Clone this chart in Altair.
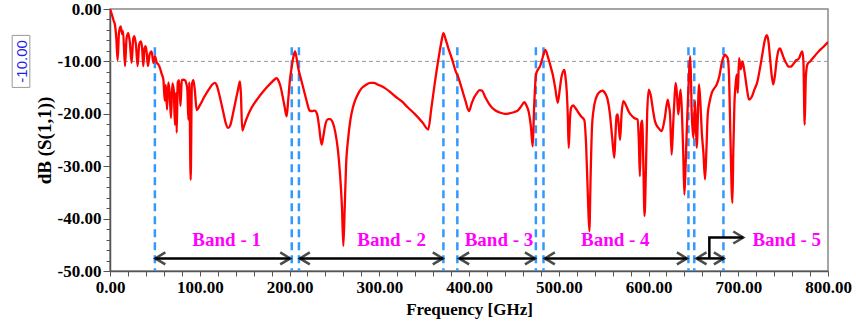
import altair as alt
import pandas as pd

# Return loss S(1,1) in dB versus frequency in GHz
freq_ghz = [
    0, 2, 4, 5.5, 7, 8.5, 10, 11.9, 13.5, 14.5, 16.7, 18.5, 20.4, 22.2, 24.1, 25.8, 27.1, 29,
    30.8, 32.5, 34.5, 35.8, 37.1, 38.5, 39.7, 41, 42.3, 44.2, 46.4, 48.3, 50.1, 52, 53.9, 55.5,
    57.6, 59.5, 61, 62.2, 63.5, 65, 66.5, 67.9, 69.5, 71, 72.4, 73.5, 74.3, 75.5, 77, 78.5, 80,
    81.7, 83.5, 85, 86.2, 87.3, 88.3, 89.9, 91.2, 92.9, 94.5, 96.6, 100, 105, 110, 114, 116.9,
    119, 122, 126, 129, 131.7, 134, 137, 140, 142.5, 144.8, 145.8, 147.4, 149, 152, 156, 160,
    165, 170, 175, 180, 183, 185.7, 188, 190, 192.5, 194.5, 196.8, 198.5, 200.5, 202.5, 204.5,
    206.2, 208, 210, 213, 216, 219, 222.5, 225, 228, 231, 233, 235.8, 237.5, 240, 243, 245.2,
    248, 251, 254, 256.5, 258.5, 260, 261.5, 263, 265.5, 268, 270.5, 273, 277, 280.4, 285, 290,
    294, 298, 302, 306.3, 312, 318, 324.9, 332, 340, 348, 354.6, 358, 362, 366, 369, 371.5, 374,
    377, 381, 385, 388, 392, 396, 400, 403, 406, 409, 412, 414.6, 418, 422, 426, 430, 435, 440,
    445, 450, 454.3, 458, 461.7, 464, 466.5, 469, 471, 472.5, 474.7, 477, 479.2, 482, 485.1,
    488, 491, 493.3, 496, 498.9, 501, 503, 506.3, 507.5, 508.9, 510, 511.1, 512.5, 513.7, 516,
    518.5, 522, 525, 528.5, 530.5, 532.5, 534.1, 535.5, 537, 539, 541.5, 545, 548.9, 552, 554.5,
    557, 559.5, 561.9, 563.2, 564.5, 565.6, 566.5, 568.3, 570, 571.9, 575, 578, 580.4, 584,
    587.8, 589.2, 590.4, 591.8, 593, 594.3, 595.6, 597.2, 598.5, 600.3, 602.5, 605, 607.2, 611,
    614.7, 618, 621.4, 622.8, 624, 625.8, 627.5, 629, 630.3, 631.8, 633.2, 634.5, 635.8, 637.3,
    638.8, 640, 641.3, 642.6, 644.5, 646.4, 647.3, 648.1, 650, 651.9, 653.7, 656.3, 658, 659.3,
    661.2, 663, 664.5, 666, 668, 670.5, 673, 676, 679, 681.6, 683.5, 685.3, 686.8, 688.3, 689.8,
    691.2, 693.5, 694.5, 695.7, 697, 698.3, 699.5, 700.9, 702.8, 704.6, 707, 709.5, 712, 715,
    718, 721.3, 724, 727, 729.5, 731.7, 733.5, 735.5, 737.5, 739.1, 741, 743, 745, 746.5, 748.5,
    751, 754, 756, 758.4, 761, 764, 767.7, 769.8, 771.4, 772.6, 774, 775.3, 777, 780, 785, 790,
    795, 800,
]
s11_db = [
    0.0, -1.0, -2.2, -3.0, -5.5, -9.8, -4.5, -3.3, -4.8, -4.2, -10.9, -5.5, -4.6, -6.5, -10.3,
    -5.8, -5.2, -7.0, -10.9, -6.8, -6.2, -7.5, -10.9, -7.5, -7.1, -8.5, -10.9, -8.6, -8.1, -10.3,
    -9.0, -10.2, -10.6, -11.2, -12.4, -13.5, -17.5, -14.5, -19.2, -14.0, -16.0, -20.8, -14.2,
    -15.5, -22.1, -16.0, -23.6, -14.0, -13.6, -18.5, -13.6, -13.5, -13.6, -14.2, -15.5, -21.1,
    -14.0, -32.6, -14.5, -13.6, -15.5, -19.3, -18.4, -16.8, -15.4, -14.4, -14.1, -14.6, -16.5,
    -19.5, -21.8, -22.7, -22.2, -20.0, -17.5, -15.5, -13.8, -16.0, -23.2, -22.5, -21.0, -19.4,
    -18.2, -17.0, -15.9, -14.9, -14.0, -13.5, -13.2, -13.8, -14.8, -16.8, -18.6, -20.5, -17.5,
    -13.5, -11.0, -9.0, -8.1, -9.5, -11.5, -13.5, -15.5, -17.5, -19.4, -19.5, -19.4, -20.2,
    -22.5, -25.9, -24.5, -22.0, -21.0, -21.0, -21.6, -23.5, -27.0, -32.0, -38.0, -45.2, -38.0,
    -30.0, -24.5, -21.0, -18.9, -17.5, -16.0, -15.1, -14.5, -14.1, -14.1, -14.4, -14.7, -15.1,
    -15.8, -16.7, -17.6, -18.8, -20.1, -21.6, -23.0, -19.0, -14.0, -9.5, -6.5, -4.6, -5.8, -7.5,
    -9.5, -11.8, -13.0, -15.2, -17.5, -19.5, -18.0, -16.8, -16.0, -15.5, -15.6, -16.8, -18.0,
    -18.9, -19.4, -19.8, -20.0, -19.9, -19.7, -19.4, -18.6, -17.8, -18.4, -19.6, -22.5, -26.2,
    -19.0, -12.5, -11.5, -10.9, -9.3, -7.8, -9.2, -11.0, -12.5, -15.0, -17.9, -15.5, -13.0,
    -11.6, -13.0, -15.7, -20.0, -26.5, -21.0, -18.9, -18.4, -18.9, -19.8, -20.5, -21.2, -26.0,
    -36.0, -42.4, -32.0, -22.7, -19.0, -17.0, -15.9, -15.6, -16.2, -17.3, -20.0, -24.5, -28.4,
    -24.0, -20.3, -20.1, -21.5, -25.0, -20.0, -17.6, -18.4, -19.6, -20.2, -20.8, -21.1, -25.0,
    -31.9, -22.0, -21.3, -30.0, -39.5, -30.0, -20.0, -15.4, -16.5, -19.3, -21.4, -22.7, -23.3,
    -21.0, -17.3, -18.5, -20.1, -27.8, -22.0, -17.0, -14.1, -16.5, -20.1, -17.5, -15.4, -20.0,
    -28.0, -35.4, -30.0, -23.3, -15.0, -9.0, -13.0, -19.5, -24.6, -17.6, -26.5, -14.4, -18.5,
    -23.3, -27.5, -32.5, -27.0, -20.1, -17.8, -16.0, -15.2, -14.4, -12.8, -10.3, -9.2, -8.7,
    -9.0, -9.4, -13.0, -24.0, -37.0, -27.0, -18.2, -14.5, -12.5, -16.0, -9.4, -11.5, -10.0,
    -12.0, -15.0, -17.3, -16.8, -15.4, -13.9, -11.5, -8.5, -6.0, -5.0, -6.0, -9.5, -13.0, -14.4,
    -12.5, -9.5, -7.8, -7.5, -8.3, -9.5, -10.5, -11.0, -11.0, -10.6, -9.9, -9.4, -8.5, -8.1,
    -10.0, -22.1, -13.0, -10.6, -10.0, -9.0, -8.0, -7.2, -6.3,
]

# Band boundaries (dashed markers), band arrows and labels
edge_ghz = [50, 202.5, 210.5, 371.5, 387, 474.5, 483, 644.5, 651, 683.5]
arrow_from = [50.5, 211.5, 389, 484.5, 653.5]
arrow_to = [200.8, 370.8, 473.5, 642.8, 684]
band_names = ["Band - 1", "Band - 2", "Band - 3", "Band - 4", "Band - 5"]
band_label_ghz = [130, 313.8, 433.4, 563, 754]

# Elbow pointer for the last band (open-ended above 680 GHz)
elbow_x = [667.8, 667.8, 705.6]
elbow_y = [-47.6, -43.6, -43.6]

ref_level_db = -10
marker_top_db = -7.3
marker_bottom_db = -50
arrow_db = -47.6
label_db = -44.0

x_ticks = list(range(0, 801, 20))
y_ticks = list(range(-50, 1, 2))

serif = "Liberation Serif"
x_scale = alt.Scale(domain=[0, 800], nice=False, zero=False)
y_scale = alt.Scale(domain=[-50, 0], nice=False, zero=False)

curve = pd.DataFrame({"f": freq_ghz, "s": s11_db})
edges = pd.DataFrame({"f": edge_ghz, "top": marker_top_db, "bot": marker_bottom_db})
arrows = pd.DataFrame({"a": arrow_from, "b": arrow_to, "y": arrow_db})
labels = pd.DataFrame({"f": band_label_ghz, "t": band_names, "y": label_db})
elbow = pd.DataFrame({"f": elbow_x, "s": elbow_y, "o": [0, 1, 2]})
ref_df = pd.DataFrame({"v": [ref_level_db], "t": ["-10.00"]})

x_axis = alt.Axis(
    values=x_ticks,
    labelExpr="datum.value % 100 === 0 ? format(datum.value, '.2f') : ''",
    title="Frequency [GHz]",
    titleFont=serif, titleFontSize=17, titleFontWeight="bold", titleColor="#000",
    titlePadding=6,
    labelFont=serif, labelFontSize=17, labelFontWeight="bold", labelColor="#000",
    labelPadding=3, labelFlush=False, labelOverlap=False, labelBound=False,
    tickSize=5, tickColor="#555", domainColor="#555", domainWidth=1.5, grid=False,
)
y_axis = alt.Axis(
    values=y_ticks,
    labelExpr="datum.value % 10 === 0 ? (datum.value < 0 ? '-' : '') + format(abs(datum.value), '.2f') : ''",
    title="dB (S(1,1))",
    titleFont=serif, titleFontSize=19, titleFontWeight="bold", titleColor="#000",
    titlePadding=3,
    labelFont=serif, labelFontSize=17, labelFontWeight="bold", labelColor="#000",
    labelPadding=2, labelFlush=False, labelOverlap=False, labelBound=False,
    tickSize={"condition": {"test": "datum.value % 10 === 0", "value": 7}, "value": 4},
    tickColor="#555", domainColor="#555", domainWidth=1.5, grid=False,
)


# Every layer shares the same scales and axis definitions
def fx(field):
    return alt.X(field, scale=x_scale, axis=x_axis)


def fy(field):
    return alt.Y(field, scale=y_scale, axis=y_axis)


line = alt.Chart(curve).mark_line(
    color="#ff0000", strokeWidth=2.3, interpolate="monotone", clip=True
).encode(x=fx("f:Q"), y=fy("s:Q"), order="f:Q")

ref_line = alt.Chart(ref_df).mark_rule(
    color="#999999", strokeWidth=1, strokeDash=[4, 3]
).encode(y=fy("v:Q"))

band_edges = alt.Chart(edges).mark_rule(
    color="#3399ff", strokeWidth=2.5, strokeDash=[8, 5]
).encode(x=fx("f:Q"), y=fy("top:Q"), y2="bot:Q")

arrow_shafts = alt.Chart(arrows).mark_rule(color="black", strokeWidth=2.5).encode(
    x=fx("a:Q"), x2="b:Q", y=fy("y:Q")
)
left_heads = alt.Chart(arrows).mark_point(
    shape="M1,-0.6L0,0L1,0.6", filled=False, color="black", size=400, strokeWidth=2.5
).encode(x=fx("a:Q"), y=fy("y:Q"))
right_heads = alt.Chart(arrows).mark_point(
    shape="M-1,-0.6L0,0L-1,0.6", filled=False, color="black", size=400, strokeWidth=2.5
).encode(x=fx("b:Q"), y=fy("y:Q"))

elbow_line = alt.Chart(elbow).mark_line(color="black", strokeWidth=2.5).encode(
    x=fx("f:Q"), y=fy("s:Q"), order="o:Q"
)
elbow_head = alt.Chart(elbow.tail(1)).mark_point(
    shape="M-1,-0.6L0,0L-1,0.6", filled=False, color="black", size=400, strokeWidth=2.5
).encode(x=fx("f:Q"), y=fy("s:Q"))

band_text = alt.Chart(labels).mark_text(
    font=serif, fontSize=19, fontWeight="bold", color="#ff00ff", baseline="middle"
).encode(x=fx("f:Q"), y=fy("y:Q"), text="t:N")

# Boxed marker for the -10 dB reference level, left of the axis
ref_box = alt.Chart(ref_df).mark_point(
    shape="M-0.34,-1H0.34V1H-0.34Z", filled=True, fill="white",
    stroke="#999999", strokeWidth=1, size=2704, opacity=1
).encode(x=alt.value(-89), y=fy("v:Q"))
ref_text = alt.Chart(ref_df).mark_text(
    font="Liberation Sans", fontSize=15, color="#1f1fe6", angle=270, baseline="middle"
).encode(x=alt.value(-88), y=fy("v:Q"), text="t:N")

chart = alt.layer(
    ref_line, band_edges, line, arrow_shafts, left_heads, right_heads,
    elbow_line, elbow_head, band_text, ref_box, ref_text,
).properties(
    width=718, height=262,
    padding={"left": 110, "top": 9, "right": 28, "bottom": 52},
    autosize=alt.AutoSizeParams(type="none"),
    background="white",
).configure_view(stroke="#888888", strokeWidth=1.5)

chart.save("out.html", embed_options={"renderer": "svg", "actions": False})
